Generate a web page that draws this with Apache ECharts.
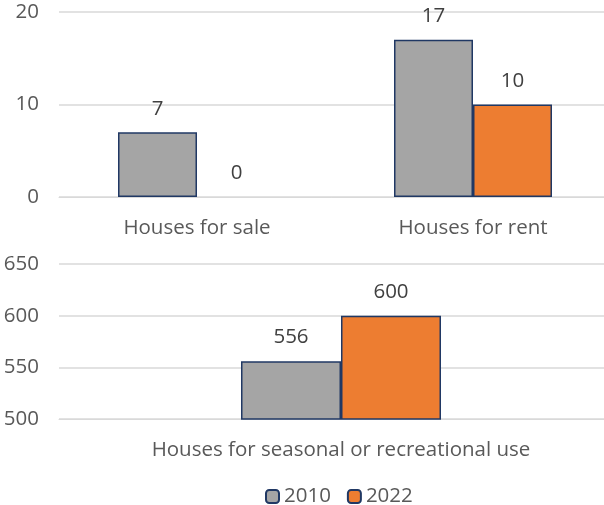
<!DOCTYPE html>
<html>
<head>
<meta charset="utf-8">
<script src="https://cdn.jsdelivr.net/npm/echarts@6/dist/echarts.min.js"></script>
<style>
  html, body { margin: 0; padding: 0; background: #fff; }
  #main { width: 604px; height: 505px; }
</style>
</head>
<body>
<div id="main"></div>
<script>
var topCategories = ['Houses for sale', 'Houses for rent'];
var top2010 = [7, 17];
var top2022 = [0, 10];
var bottomCategories = ['Houses for seasonal or recreational use'];
var bottom2010 = [556];
var bottom2022 = [600];
var seriesNames = ['2010', '2022'];

var font = 'Open Sans';
var textColor = '#595959';
var gridColor = '#d9d9d9';
var edge = '#203864';
var fs = 20.5;

function barSeries(name, data, color, xi, width) {
  return {
    name: name,
    type: 'bar',
    xAxisIndex: xi,
    yAxisIndex: xi,
    // a zero bar gets no outline, like the original
    data: data.map(function (v) {
      return v === 0 ? { value: v, itemStyle: { borderWidth: 0 } } : v;
    }),
    barWidth: width,
    barGap: '0%',
    itemStyle: { color: color, borderColor: edge, borderWidth: 1.5 },
    label: {
      show: true, position: 'top', distance: 13,
      color: '#404040', fontFamily: font, fontSize: fs
    }
  };
}

var myChart = echarts.init(document.getElementById('main'));
myChart.setOption({
  animation: false,
  grid: [
    { left: 59, top: 12, width: 552, height: 185, outerBoundsMode: 'none' },
    { left: 59, top: 264, width: 564, height: 155, outerBoundsMode: 'none' }
  ],
  legend: {
    top: 481,
    left: 260,
    itemWidth: 13,
    itemHeight: 13,
    itemGap: 16,
    textStyle: { color: textColor, fontFamily: font, fontSize: fs },
    data: seriesNames
  },
  xAxis: [0, 1].map(function (i) {
    return {
      type: 'category',
      gridIndex: i,
      data: i === 0 ? topCategories : bottomCategories,
      axisTick: { show: false },
      axisLine: { lineStyle: { color: gridColor } },
      axisLabel: { color: textColor, fontFamily: font, fontSize: fs, margin: i === 0 ? 21 : 21 }
    };
  }),
  yAxis: [
    { gridIndex: 0, min: 0, max: 20, interval: 10 },
    { gridIndex: 1, min: 500, max: 650, interval: 50 }
  ].map(function (a) {
    return Object.assign({
      type: 'value',
      axisLine: { show: false },
      axisTick: { show: false },
      splitLine: { lineStyle: { color: gridColor, width: 1.5 } },
      axisLabel: { color: textColor, fontFamily: font, fontSize: fs, margin: 20 }
    }, a);
  }),
  series: [
    barSeries(seriesNames[0], top2010, '#a5a5a5', 0, 79),
    barSeries(seriesNames[1], top2022, '#ed7d31', 0, 79),
    barSeries(seriesNames[0], bottom2010, '#a5a5a5', 1, 100),
    barSeries(seriesNames[1], bottom2022, '#ed7d31', 1, 100)
  ]
});
</script>
</body>
</html>
